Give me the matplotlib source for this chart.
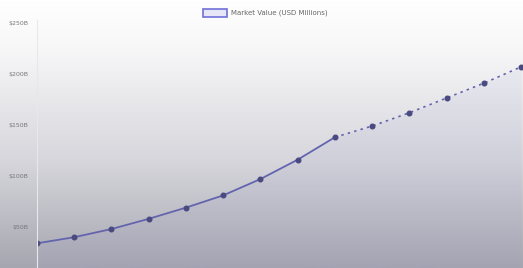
import matplotlib.pyplot as plt
import numpy as np
from matplotlib.colors import LinearSegmentedColormap

# データ (USD Billions)
years = list(range(14))
values = [34, 40, 48, 58, 69, 81, 97, 116, 138, 149, 162, 176.5, 191, 207]
split = 8  # last actual point, after that dotted forecast
tick_vals = [50, 100, 150, 200, 250]
tick_labels = ["$50B", "$100B", "$150B", "$200B", "$250B"]

W, H = 523, 268
fig = plt.figure(figsize=(W / 100, H / 100), dpi=100)

# background gradient over the whole figure
bg = fig.add_axes([0, 0, 1, 1], zorder=0)
cmap = LinearSegmentedColormap.from_list(
    "bg", [(0.0, "#ffffff"), (0.18, "#f7f7f8"), (0.6, "#d6d6dc"), (1.0, "#a6a6b0")])
grad = np.linspace(0, 1, 256).reshape(-1, 1)
bg.imshow(grad, aspect="auto", cmap=cmap, extent=[0, 1, 0, 1], origin="upper")
bg.axis("off")

ax = fig.add_axes([37 / W, 0, 1 - 37 / W, 248 / H], zorder=1)
ax.patch.set_alpha(0)

x = np.array(years)
y = np.array(values)
ax.fill_between(x, y, 0, color="#8a8ad0", alpha=0.08, lw=0)
ax.plot(x[:split + 1], y[:split + 1], color="#6464ae", lw=1.3, label="Market Value (USD Millions)")
ax.plot(x[split:], y[split:], color="#6464ae", lw=1.2, ls=(0, (1.5, 2.5)))
ax.plot(x, y, ls="none", marker="o", ms=3.3, color="#4a4a80")

ax.set_xlim(0, 13.05)
ax.set_ylim(9.8, 250 + 3 * 50 / 51)
ax.set_yticks(tick_vals)
ax.set_yticklabels(tick_labels, fontsize=4.5, color="#777777")
ax.tick_params(axis="y", length=0, pad=6)
ax.set_xticks([])
for s in ["top", "right", "bottom"]:
    ax.spines[s].set_visible(False)
ax.spines["left"].set_color("#e8e8ec")
ax.spines["left"].set_linewidth(0.8)

# legend on top
fig.patches.append(plt.Rectangle((203 / W, 1 - 17 / H), 24 / W, 8 / H,
                                 transform=fig.transFigure, facecolor="#e6e6f8",
                                 edgecolor="#7070d8", lw=1.2, zorder=3))
fig.text(231 / W, 1 - 13 / H, "Market Value (USD Millions)", fontsize=5,
         color="#666666", va="center", ha="left")

fig.savefig("out.png", dpi=100)
